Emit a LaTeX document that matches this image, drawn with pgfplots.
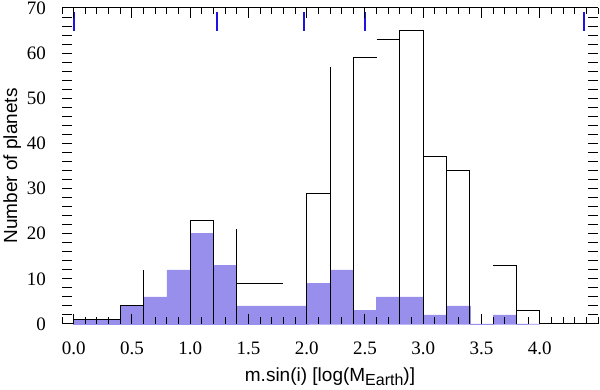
\documentclass[border=0pt]{standalone}
\usepackage{fontspec}
\setmainfont{Liberation Serif}
\newfontfamily\sansf{Liberation Sans}
\usepackage{pgfplots}
\pgfplotsset{compat=1.18}
\definecolor{histblue}{RGB}{152,142,236}
\definecolor{solblue}{RGB}{30,20,225}

\begin{document}
\begin{tikzpicture}
\begin{axis}[
    scale only axis,
    width=536pt, height=316pt,
    xmin=-0.1, xmax=4.5, ymin=0, ymax=70,
    clip=false, axis on top,
    axis line style={draw=none},
    tick align=inside, xtick pos=both, ytick pos=both,
    xtick={0,0.5,...,4.0},
    minor xtick={-0.1,0,...,4.45},
    ytick={0,2,...,70},
    yticklabels={0,,,,,10,,,,,20,,,,,30,,,,,40,,,,,50,,,,,60,,,,,70},
    major tick length=10pt, minor tick length=6.5pt,
    every tick/.style={black, line width=1pt},
    /pgf/number format/assume math mode=true,
    tick label style={font=\fontsize{19}{22}\selectfont},
    xticklabel pos=bottom, yticklabel pos=left,
    xticklabel style={/pgf/number format/fixed, /pgf/number format/fixed zerofill,
        /pgf/number format/precision=1, anchor=center, yshift=-24pt},
    yticklabel style={anchor=east, inner sep=0pt, xshift=-16pt},
    xlabel={\sansf m.sin(i) [log(M\raisebox{-0.35ex}{\fontsize{16}{16}\selectfont Earth})]},
    xlabel style={at={(axis description cs:0.5,-0.168)}, anchor=center, font=\fontsize{19}{22}\selectfont},
    ylabel={\sansf Number of planets},
    ylabel style={at={(axis description cs:-0.093,0.5)}, anchor=center, font=\fontsize{19}{22}\selectfont},
]
% subset histogram (filled)
\addplot[const plot, fill=histblue, draw=histblue, line width=0.6pt] coordinates {
    (0,1) (0.2,1) (0.4,4) (0.6,6) (0.8,12) (1.0,20) (1.2,13) (1.4,4) (1.6,4) (1.8,4)
    (2.0,9) (2.2,12) (2.4,3) (2.6,6) (2.8,6) (3.0,2) (3.2,4) (3.4,0) (3.6,2) (3.8,0) (4.0,0)
} \closedcycle;
% all planets, outline as it shows
\addplot[black, line width=1pt, unbounded coords=jump] coordinates {
    (-0.1,0) (0,0) (0,1) (0.4,1) (0.4,nan)
    (0.4,0) (0.4,4) (0.6,4) (0.6,nan)
    (0.6,0) (0.6,12) (0.6,nan)
    (1.0,0) (1.0,23) (1.2,23) (1.2,0) (1.2,nan)
    (1.4,0) (1.4,21) (1.4,nan)
    (1.4,9) (1.8,9) (1.8,nan)
    (2.0,0) (2.0,29) (2.2,29) (2.2,nan)
    (2.2,0) (2.2,57) (2.2,nan)
    (2.4,0) (2.4,59) (2.6,59) (2.6,nan)
    (2.6,63) (2.8,63) (2.8,nan)
    (2.8,0) (2.8,65) (3.0,65) (3.0,0) (3.0,nan)
    (3.0,37) (3.2,37) (3.2,0) (3.2,nan)
    (3.2,34) (3.4,34) (3.4,0) (3.4,nan)
    (3.6,13) (3.8,13) (3.8,0) (3.8,nan)
    (3.8,3) (4.0,3) (4.0,0) (4.5,0)
};
% solar system planets
\addplot[solblue, line width=2pt] coordinates {(0,65) (0,69.2)};
\addplot[solblue, line width=2pt] coordinates {(1.234,65) (1.234,69.2)};
\addplot[solblue, line width=2pt] coordinates {(1.978,65) (1.978,69.2)};
\addplot[solblue, line width=2pt] coordinates {(2.502,65) (2.502,69.2)};
\addplot[solblue, line width=2pt] coordinates {(4.38,65) (4.38,69.2)};
\draw[black, line width=1pt] (rel axis cs:0,1) -- (rel axis cs:1,1);
\end{axis}
\pgfresetboundingbox
\path[use as bounding box] ([shift={(-62pt,-66pt)}]current axis.south west)
    rectangle ([shift={(2pt,8pt)}]current axis.north east);
\end{tikzpicture}
\end{document}
